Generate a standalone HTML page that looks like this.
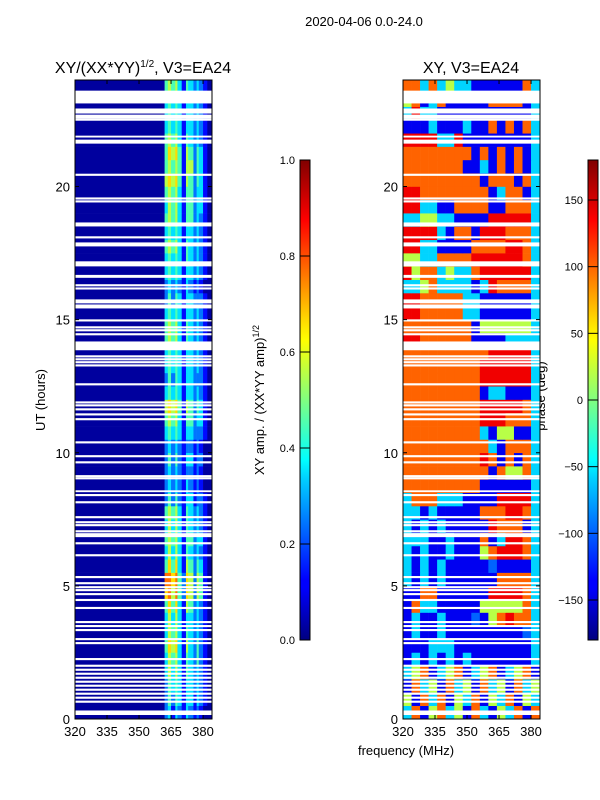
<!DOCTYPE html>
<html><head><meta charset="utf-8"><style>
body{margin:0;background:#fff;}
svg{display:block;font-family:"Liberation Sans","DejaVu Sans",sans-serif;}
</style></head><body>
<svg id="fig" width="600" height="800" viewBox="0 0 600 800">
<rect width="600" height="800" fill="#fff"/>
<text x="364" y="26" font-size="13" text-anchor="middle">2020-04-06 0.0-24.0</text>
<text x="143" y="73" font-size="16" text-anchor="middle">XY/(XX*YY)<tspan font-size="10" dy="-6">1/2</tspan><tspan dy="6">, V3=EA24</tspan></text>
<text x="471" y="73" font-size="16" text-anchor="middle">XY, V3=EA24</text>
<text transform="translate(45,400) rotate(-90)" font-size="13" text-anchor="middle">UT (hours)</text>
<text x="406" y="755" font-size="13" text-anchor="middle">frequency (MHz)</text>
<text transform="translate(264,400) rotate(-90)" font-size="13" text-anchor="middle">XY amp. / (XX*YY amp)<tspan font-size="9" dy="-5">1/2</tspan></text>
<text transform="translate(545,396) rotate(-90)" font-size="13" text-anchor="middle">phase (deg)</text>
<defs>
<linearGradient id="jetg" x1="0" y1="1" x2="0" y2="0">
<stop offset="0" stop-color="#000080"/><stop offset="0.11" stop-color="#0000ff"/><stop offset="0.125" stop-color="#0000ff"/>
<stop offset="0.34" stop-color="#00d4ff"/><stop offset="0.375" stop-color="#00ffff"/><stop offset="0.5" stop-color="#80ff80"/>
<stop offset="0.625" stop-color="#ffff00"/><stop offset="0.66" stop-color="#ffe000"/><stop offset="0.875" stop-color="#ff0000"/><stop offset="1" stop-color="#800000"/>
</linearGradient>
</defs>
<g id="left"></g><g id="right"></g><g id="cbars"></g>
</svg>
<script>
// ---------- data ----------
var ampFreqEdges = [320,362,363.5,365,367,368,370,372,373,375.5,377,378,380,382,384];
var phaseFreqEdges = [320,324,328,332,336,340,344,348,352,356,360,364,368,372,376,380,384];
var rowHours = 0.5;
var ampRows = ["13424324323211","13535424424321","13545424434321","14646425434321","14656425435321","15767426435321",
"14656425434321","14646424434321","15757426534321","17868537636521","18878537636521","15757426535421",
"14646425434321","15656425534421","14646425434321","15656425434321","13535324423321","13434324323211",
"13434323323211","13535324423311","13434323323211","14545424433321","15656425534421","16767526535421",
"14545424434321","13535424433321","14545424434321","14545424434321","15656425434321","15656425434321",
"14545424434321","13535424433321","13434324323211","14545424434321","14545425434321","15656425434321",
"14545424434321","15656425534321","14656425534421","15656425534421","16767526535421","15656526635421",
"15767526535421","15656425434321","14545424434321","14545424434321","14545424434321","15656425434321"];
var phaseRows = ["3715735173153717","5173715371537153","1735173517351735","3571357135713571","1313131311111113",
"1113331111111113","1311311111111123","1311311121578773","1733111115555573","1177111111888873","3131311111177773",
"3131311111211113","3131131115788873","3331131117138873","3131311111877713","3313111117778873","3777333111188883",
"7777777771111113","7777777777175573","7777777778717173","7777777777317773","7777777773155113","7777777778887773",
"7777777778888873","7777777771331113","7777777778888883","7777777778888883","7777777777888883","8877777711113333",
"7777777715555553","8877777331111113","8877777331111113","3357333313877773","8577353378888883","5533777788888873",
"8833111177778873","8888317718887773","3355331111888883","8833117777117773","8877777777137713","7777777771777173",
"7777777113171713","7777777717171713","8888338111111113","1113111311717173","3833111111111113","5713711111777713",
"7737353311111173"];
var gapStarts = [23.12,22.74,22.62,22.55,22.47,21.84,21.61,20.40,19.51,19.40,18.5,18.05,17.82,17.75,17.0,16.57,16.25,16.13,
15.68,15.61,15.49,15.42,14.93,14.67,14.56,14.41,13.85,13.58,13.47,13.36,13.24,12.53,11.85,11.74,11.59,11.40,11.22,10.35,
9.83,9.60,9.08,9.0,8.52,8.37,8.10,7.54,7.35,7.24,7.01,6.90,6.83,6.56,6.11,5.29,5.06,4.91,4.80,4.65,4.43,4.13,3.60,3.45,3.30,
2.96,2.81,2.21,1.96,1.81,1.66,1.51,1.36,1.21,1.06,0.91,0.76,0.61,0.15];
var gapEnds = [23.6,22.93,22.70,22.63,22.55,21.91,21.76,20.48,19.59,19.48,18.65,18.13,17.90,17.83,17.19,16.68,16.33,16.21,
15.76,15.69,15.57,15.50,15.01,14.75,14.64,14.49,14.18,13.66,13.55,13.44,13.32,12.61,11.93,11.82,11.67,11.48,11.30,10.43,
9.91,9.68,9.16,9.08,8.59,8.45,8.18,7.62,7.43,7.32,7.09,6.98,6.91,6.64,6.19,5.37,5.14,4.99,4.88,4.73,4.51,4.21,3.68,3.53,3.38,
3.04,2.89,2.29,2.04,1.89,1.74,1.59,1.44,1.29,1.14,0.99,0.84,0.69,0.32];
var xTicks = [320,335,350,365,380];
var yTicks = [0,5,10,15,20];
var ampTicks = [0.0,0.2,0.4,0.6,0.8,1.0];
var phaseTicks = [-150,-100,-50,0,50,100,150];

// ---------- helpers ----------
var NS = "http://www.w3.org/2000/svg";
var P = {top:80, bottom:719, w:137, fmin:320, fmax:384.2, hmax:24};
function xs(x0,f){return x0 + (f-P.fmin)/(P.fmax-P.fmin)*P.w;}
function ys(h){return P.bottom - h/P.hmax*(P.bottom-P.top);}
function clamp(v){return Math.max(0,Math.min(1,v));}
function jet(v){v=clamp(v);var r=clamp(1.5-Math.abs(4*v-3)),g=clamp(1.5-Math.abs(4*v-2)),b=clamp(1.5-Math.abs(4*v-1));
 return "rgb("+Math.round(r*255)+","+Math.round(g*255)+","+Math.round(b*255)+")";}
function mk(tag,attrs,parent){var e=document.createElementNS(NS,tag);for(var k in attrs)e.setAttribute(k,attrs[k]);parent.appendChild(e);return e;}

function panel(gid,x0,edges,rows,valFn,name){
 var g=document.getElementById(gid);
 rows.forEach(function(row,ri){
  for(var c=0;c<edges.length-1;c++){
   var xa=xs(x0,edges[c]),xb=xs(x0,edges[c+1]);
   var ya=ys((ri+1)*rowHours),yb=ys(ri*rowHours);
   var r=mk("rect",{x:xa,y:ya,width:xb-xa+0.3,height:yb-ya+0.3,fill:jet(valFn(row.charCodeAt(c)-48))},g);
   
   
  }
 });
 for(var i=0;i<gapStarts.length;i++){
  var ya=ys(gapEnds[i]),yb=ys(gapStarts[i]);
  var gr=mk("rect",{x:x0,y:ya,width:P.w,height:Math.max(1.5,yb-ya),fill:"#fff"},g);
  
  
 }
 var fr=mk("rect",{x:x0,y:P.top,width:P.w,height:P.bottom-P.top,fill:"none",stroke:"#000","stroke-width":1},g);
 
 
 xTicks.forEach(function(t){
  var x=xs(x0,t);
  mk("line",{x1:x,x2:x,y1:P.bottom,y2:P.bottom-4,stroke:"#000"},g);
  mk("line",{x1:x,x2:x,y1:P.top,y2:P.top+4,stroke:"#000"},g);
  var tl=mk("text",{x:x,y:P.bottom+17,"font-size":13,"text-anchor":"middle"},g);tl.textContent=t;
  
  
 });
 yTicks.forEach(function(t){
  var y=ys(t);
  mk("line",{x1:x0,x2:x0+4,y1:y,y2:y,stroke:"#000"},g);
  mk("line",{x1:x0+P.w,x2:x0+P.w-4,y1:y,y2:y,stroke:"#000"},g);
  var tl=mk("text",{x:x0-5,y:y+5,"font-size":13,"text-anchor":"end"},g);tl.textContent=t;
  
  
 });
}
panel("left",75,ampFreqEdges,ampRows,function(d){return (d-1)*0.105+0.03;},"amp");
panel("right",403,phaseFreqEdges,phaseRows,function(d){return d/9;},"phase");

function cbar(x,ticks,vmin,vmax,name){
 var g=document.getElementById("cbars");
 var top=160,bot=640;
 var r=mk("rect",{x:x,y:top,width:10,height:bot-top,fill:"url(#jetg)",stroke:"#000","stroke-width":1},g);
 
 
 ticks.forEach(function(t){
  var y=bot-(t-vmin)/(vmax-vmin)*(bot-top);
  mk("line",{x1:x,x2:x+10,y1:y,y2:y,stroke:"#000","stroke-width":1},g);
  var tl=mk("text",{x:x-5,y:y+4,"font-size":11,"text-anchor":"end"},g);tl.textContent=(name==="amp"?t.toFixed(1):(t<0?"\u2212"+(-t):t));
  
  
 });
}
cbar(300,ampTicks,0,1,"amp");
cbar(588,phaseTicks,-180,180,"phase");
</script>
</body></html>
